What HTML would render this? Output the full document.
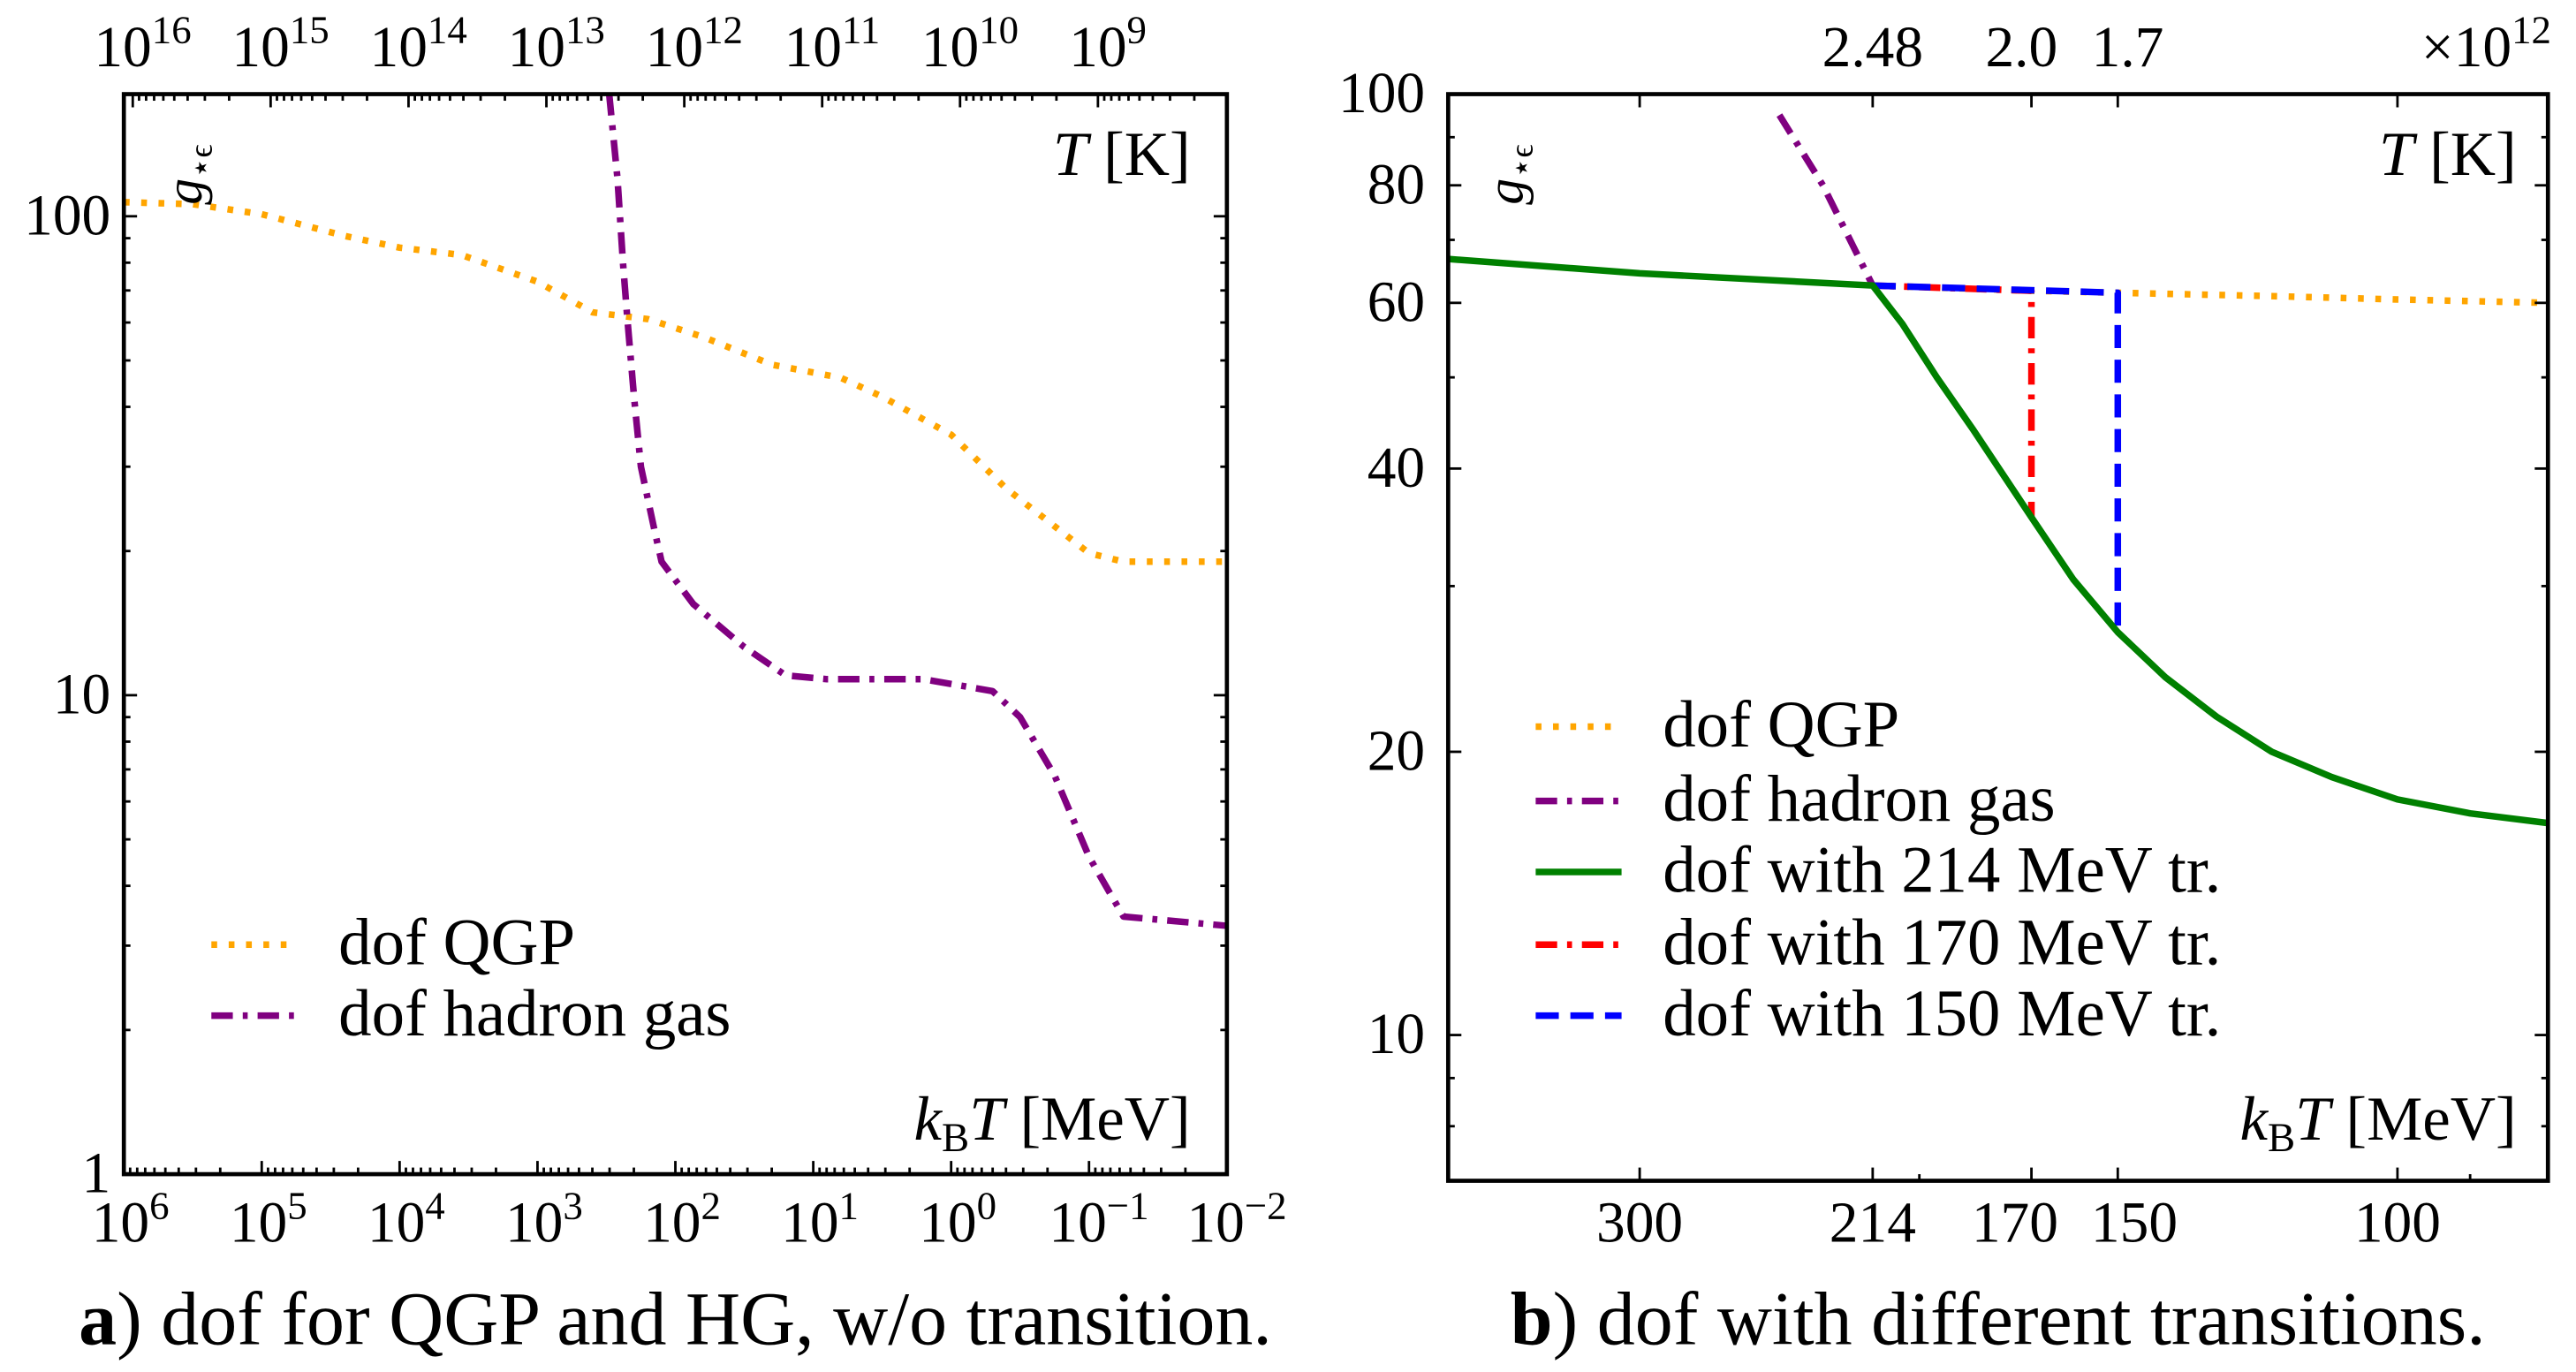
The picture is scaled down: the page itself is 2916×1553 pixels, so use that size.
<!DOCTYPE html>
<html><head><meta charset="utf-8"><style>
html,body{margin:0;padding:0;background:#fff;}
svg{display:block;font-family:"Liberation Serif",serif;}
</style></head><body>
<svg id="fig" width="2916" height="1553" viewBox="0 0 1560 830.8" preserveAspectRatio="none" xmlns="http://www.w3.org/2000/svg">
<g id="pa"></g>
<g id="pb"></g>
</svg>
<script>
// ---- Panel a data (log10 kT in MeV, g values) ----
const qgpA_x = [6, 5.5, 5, 4.4, 4, 3.55, 3, 2.6, 2.2, 1.8, 1.3, 0.8, 0.5, 0, -0.4, -1, -1.25, -2];
const qgpA_y = [107, 106, 101, 91, 86, 83, 73, 63, 61, 56, 49, 46, 42, 35, 27, 19.8, 19, 19];
const hgA_x = [2.48, 2.42, 2.38, 2.35, 2.3, 2.25, 2.15, 2.1, 1.87, 1.5, 1.2, 0.9, 0.2, -0.3, -0.5, -0.75, -1, -1.25, -2];
const hgA_y = [180, 120, 80, 62, 42, 30, 22, 19, 15.5, 12.6, 11, 10.8, 10.8, 10.2, 9, 6.8, 4.6, 3.45, 3.3];
const botTicksA = [6,5,4,3,2,1,0,-1,-2];
const topTicksA = [16,15,14,13,12,11,10,9];
const yTicksA = [1,10,100];
// ---- Panel b data (kT in MeV, g values) ----
const qgpB_x = [214, 190, 170, 150, 120, 100, 80.4];
const qgpB_y = [62.6, 62.2, 61.8, 61.5, 61, 60.5, 60];
const hgB_x = [245, 230, 214];
const hgB_y = [95, 80, 62.6];
const g214_x = [396, 300, 214, 205, 195, 185, 170, 160, 150, 140, 130, 120, 110, 100, 90, 80.4];
const g214_y = [66.8, 64.5, 62.6, 57, 50, 44, 35.5, 30.5, 26.8, 24, 21.8, 20, 18.8, 17.8, 17.2, 16.8];
const r170_x = [214, 170, 170];
const r170_y = [62.6, 61.8, 35.5];
const b150_x = [214, 150, 150];
const b150_y = [62.6, 61.5, 26.8];
const botTicksB = [300, 214, 170, 150, 100];
const topLabelsB = ["2.48", "2.0", "1.7"];
const yTicksB = [10, 20, 40, 60, 80, 100];
const yMinorB = [8, 9, 30, 50, 70, 90];

const NS = "http://www.w3.org/2000/svg";
const TF = 35, SF = 24, TT = 38, LF = 40, CF = 46;
function mk(parent, tag, attrs, txt){ const e=document.createElementNS(NS,tag); for(const k in attrs) e.setAttribute(k,attrs[k]); if(txt!==undefined) e.textContent=txt; parent.appendChild(e); return e; }

// ---------- Panel A ----------
const A = {x0:75, x1:743, y0:57, y1:711};
const axA = v => A.x0 + (6 - v) / 8 * (A.x1 - A.x0);
const ayA = g => A.y1 - Math.log10(g) / 2.255 * (A.y1 - A.y0);
const pa = document.getElementById('pa');
function path(parent, xs, ys, fx, fy, stroke, dash, name, w){
  let d = xs.map((x,i)=> (i?'L':'M') + fx(x).toFixed(2) + ' ' + fy(ys[i]).toFixed(2)).join(' ');
  const p = mk(parent,'path',{d:d, fill:'none', stroke:stroke, 'stroke-width':w||3.5, 'stroke-dasharray':dash||'none','stroke-linejoin':'round'});
  
  
  return p;
}
const clipA = mk(pa,'clipPath',{id:'ca'}); mk(clipA,'rect',{x:A.x0,y:A.y0,width:A.x1-A.x0,height:A.y1-A.y0});
const gA = mk(pa,'g',{'clip-path':'url(#ca)'});
path(gA, qgpA_x, qgpA_y, axA, ayA, '#ffa500', '3.5 7', 'qgp-line-a', 4);
path(gA, hgA_x, hgA_y, axA, ayA, '#800080', '13 6 3 6', 'hadron-gas-line-a', 4);
const tkA = mk(pa,'g',{stroke:'#000','stroke-width':1.5});
for(let d=6; d>-2; d--){
  for(let m=1;m<10;m++){
    const v = d - 1 + Math.log10(m);
    const x = axA(v);
    if(m===1){ mk(tkA,'line',{x1:axA(d),y1:A.y1,x2:axA(d),y2:A.y1-8}); continue;}
    mk(tkA,'line',{x1:x,y1:A.y1,x2:x,y2:A.y1-4});
  }
}
mk(tkA,'line',{x1:axA(-2),y1:A.y1,x2:axA(-2),y2:A.y1-8});
const Kfac = Math.log10(8.617e-11);
topTicksA.forEach(t=>{ const x = axA(t + Kfac); mk(tkA,'line',{x1:x,y1:A.y0,x2:x,y2:A.y0+8});
  for(let m=2;m<10;m++){ const xm=axA(t-1+Math.log10(m)+Kfac); if(xm>A.x0&&xm<A.x1) mk(tkA,'line',{x1:xm,y1:A.y0,x2:xm,y2:A.y0+4}); }});
for(let d=0; d<3; d++){ for(let m=1;m<10;m++){ const g=Math.pow(10,d)*m; const y=ayA(g); if(y<A.y0) continue; const L=m===1?8:4;
  mk(tkA,'line',{x1:A.x0,y1:y,x2:A.x0+L,y2:y}); mk(tkA,'line',{x1:A.x1,y1:y,x2:A.x1-L,y2:y}); }}
mk(pa,'rect',{x:A.x0,y:A.y0,width:A.x1-A.x0,height:A.y1-A.y0,fill:'none',stroke:'#000','stroke-width':2.5,});
botTicksA.forEach(d=>{ const t=mk(pa,'text',{x:axA(d)+(d<0?6:4),y:752,'font-size':TF,'text-anchor':'middle',});
  mk(t,'tspan',{},'10'); mk(t,'tspan',{dy:-14,'font-size':SF},(d<0?'\u2212'+(-d):String(d))); });
topTicksA.forEach(t0=>{ const t=mk(pa,'text',{x:axA(t0+Kfac)+6,y:40,'font-size':TF,'text-anchor':'middle',});
  mk(t,'tspan',{},'10'); mk(t,'tspan',{dy:-14,'font-size':SF},String(t0)); });
yTicksA.forEach(g=>{ mk(pa,'text',{x:A.x0-8,y:ayA(g)+11,'font-size':TF,'text-anchor':'end',},String(g)); });
function gLabel(p,x,y,name){ const t=mk(p,'text',{x:0,y:0,'font-size':32,'font-style':'italic',transform:`translate(${x},${y}) rotate(-90)`,});
  mk(t,'tspan',{},'g'); mk(t,'tspan',{dy:6,'font-size':20,'font-style':'normal'},'\u22C6\u03F5'); }
gLabel(pa,122,124,'y-axis-title-a');
function tk(p,x,y,name){ const t=mk(p,'text',{x:x,y:y,'font-size':TT,'text-anchor':'end',});
  mk(t,'tspan',{'font-style':'italic'},'T'); mk(t,'tspan',{},' [K]'); }
tk(pa,721,106,'top-axis-title-a');
function kt(p,x,y,name){ const t=mk(p,'text',{x:x,y:y,'font-size':TT,'text-anchor':'end',});
  mk(t,'tspan',{'font-style':'italic'},'k'); mk(t,'tspan',{dy:7,'font-size':25},'B'); mk(t,'tspan',{dy:-7,'font-style':'italic'},'T'); mk(t,'tspan',{},' [MeV]'); }
kt(pa,721,690,'x-axis-title-a');
function legend(p,y,stroke,dash,label,name){ const g=mk(p,'g',{});
  mk(g,'line',{x1:0,y1:y,x2:52,y2:y,stroke:stroke,'stroke-width':4,'stroke-dasharray':dash}); 
  mk(g,'text',{x:77,y:y+12,'font-size':LF},label); return g; }
let lg = mk(pa,'g',{transform:'translate(128,0)',});
legend(lg,572,'#ffa500','3.5 7','dof QGP','legend-entry-qgp');
legend(lg,615,'#800080','13 6 3 6','dof hadron gas','legend-entry-hadron-gas');
const ca=mk(pa,'text',{x:409,y:814,'font-size':CF,'text-anchor':'middle',});
mk(ca,'tspan',{'font-weight':'bold'},'a'); mk(ca,'tspan',{},') dof for QGP and HG, w/o transition.');

// ---------- Panel B ----------
const B = {x0:877, x1:1543, y0:57, y1:715};
const xL = Math.log10(396), xR = Math.log10(80.4);
const axB = v => B.x0 + (xL - Math.log10(v)) / (xL - xR) * (B.x1 - B.x0);
const yT = 2, yB = Math.log10(7.0);
const ayB = g => B.y0 + (yT - Math.log10(g)) / (yT - yB) * (B.y1 - B.y0);
const pb = document.getElementById('pb');
const clipB = mk(pb,'clipPath',{id:'cb'}); mk(clipB,'rect',{x:B.x0,y:B.y0,width:B.x1-B.x0,height:B.y1-B.y0});
const gB = mk(pb,'g',{'clip-path':'url(#cb)'});
path(gB, qgpB_x, qgpB_y, axB, ayB, '#ffa500', '3.5 7', 'qgp-line-b', 4);
path(gB, hgB_x, hgB_y, axB, ayB, '#800080', '13 6 3 6', 'hadron-gas-line-b', 4);
path(gB, r170_x, r170_y, axB, ayB, '#ff0000', '13 6 3 6', 'transition-170-line', 4);
path(gB, b150_x, b150_y, axB, ayB, '#0000ff', '14 7', 'transition-150-line', 4);
path(gB, g214_x, g214_y, axB, ayB, '#008000', 'none', 'transition-214-line', 4);
const tkB = mk(pb,'g',{stroke:'#000','stroke-width':1.5});
botTicksB.forEach(v=>{ const x=axB(v); mk(tkB,'line',{x1:x,y1:B.y1,x2:x,y2:B.y1-8}); mk(tkB,'line',{x1:x,y1:B.y0,x2:x,y2:B.y0+8}); });
[200,90].forEach(v=>{ const x=axB(v); mk(tkB,'line',{x1:x,y1:B.y1,x2:x,y2:B.y1-4}); });
yTicksB.forEach(g=>{ const y=ayB(g); mk(tkB,'line',{x1:B.x0,y1:y,x2:B.x0+8,y2:y}); mk(tkB,'line',{x1:B.x1,y1:y,x2:B.x1-8,y2:y}); });
yMinorB.forEach(g=>{ const y=ayB(g); mk(tkB,'line',{x1:B.x0,y1:y,x2:B.x0+4,y2:y}); mk(tkB,'line',{x1:B.x1,y1:y,x2:B.x1-4,y2:y}); });
mk(pb,'rect',{x:B.x0,y:B.y0,width:B.x1-B.x0,height:B.y1-B.y0,fill:'none',stroke:'#000','stroke-width':2.5,});
const bl = [[300,0],[214,0],[170,-10],[150,10],[100,0]];
bl.forEach(([v,o])=>{ mk(pb,'text',{x:axB(v)+o,y:752,'font-size':TF,'text-anchor':'middle',},String(v)); });
const tpos=[214,170,150], toff=[0,-6,6];
topLabelsB.forEach((s,i)=>{ mk(pb,'text',{x:axB(tpos[i])+toff[i],y:40,'font-size':TF,'text-anchor':'middle',},s); });
const ex=mk(pb,'text',{x:1545,y:40,'font-size':TF,'text-anchor':'end',});
mk(ex,'tspan',{},'\u00D710'); mk(ex,'tspan',{dy:-14,'font-size':SF},'12');
yTicksB.forEach(g=>{ mk(pb,'text',{x:B.x0-14,y:ayB(g)+11,'font-size':TF,'text-anchor':'end',},String(g)); });
gLabel(pb,922,124,'y-axis-title-b');
tk(pb,1524,106,'top-axis-title-b');
kt(pb,1524,690,'x-axis-title-b');
lg = mk(pb,'g',{transform:'translate(930,0)',});
legend(lg,440,'#ffa500','3.5 7','dof QGP','legend-entry-qgp-b');
legend(lg,485,'#800080','13 6 3 6','dof hadron gas','legend-entry-hadron-gas-b');
legend(lg,528,'#008000','none','dof with 214 MeV tr.','legend-entry-214');
legend(lg,572,'#ff0000','13 6 3 6','dof with 170 MeV tr.','legend-entry-170');
legend(lg,615,'#0000ff','14 7','dof with 150 MeV tr.','legend-entry-150');
const cb=mk(pb,'text',{x:1210,y:814,'font-size':CF,'text-anchor':'middle',});
mk(cb,'tspan',{'font-weight':'bold'},'b'); mk(cb,'tspan',{},') dof with different transitions.');
</script>
</body></html>
